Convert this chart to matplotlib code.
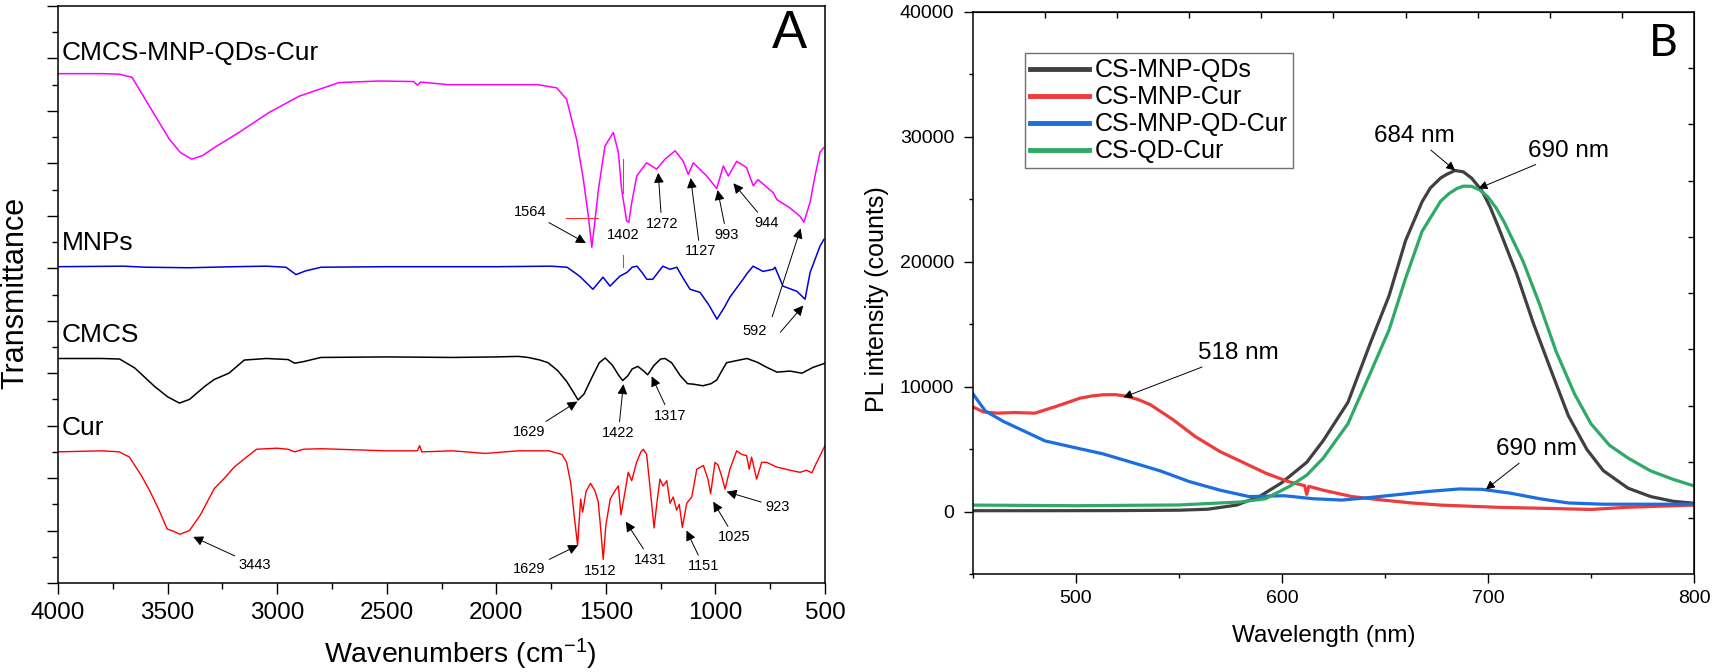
import matplotlib.pyplot as plt
from matplotlib.ticker import MultipleLocator, FixedLocator

plt.rcParams['font.family'] = ['Liberation Sans', 'DejaVu Sans']
plt.rcParams['mathtext.default'] = 'regular'

# ---------------- panel A : FTIR (offset traces, arbitrary units) ----------------
qds_wn = [4000, 3900, 3800, 3720, 3662, 3583, 3492, 3440, 3389, 3340, 3287, 3174, 3037, 2900,
          2718, 2536, 2377, 2360, 2345, 2220, 2000, 1810, 1741, 1724, 1679, 1633, 1603, 1580,
          1564, 1550, 1534, 1504, 1466, 1443, 1428, 1405, 1395, 1382, 1359, 1314, 1268, 1230,
          1184, 1147, 1124, 1101, 1040, 994, 964, 941, 903, 858, 827, 806, 736, 720, 660, 614,
          596, 568, 546, 523, 505]
qds_t = [9.71, 9.71, 9.71, 9.70, 9.64, 9.09, 8.46, 8.20, 8.08, 8.15, 8.30, 8.59, 8.97, 9.28,
         9.54, 9.57, 9.56, 9.49, 9.55, 9.50, 9.50, 9.50, 9.45, 9.44, 9.22, 8.45, 7.70, 7.00,
         6.40, 6.90, 7.50, 8.33, 8.59, 8.21, 7.50, 6.90, 6.88, 7.25, 7.76, 8.01, 7.89, 8.08,
         8.24, 8.04, 7.79, 8.01, 7.76, 7.52, 7.95, 7.76, 8.04, 7.92, 7.57, 7.69, 7.44, 7.31,
         7.15, 6.99, 6.88, 7.26, 7.75, 8.21, 8.30]

mnp_wn = [4000, 3700, 3600, 3400, 3200, 3050, 2960, 2914, 2870, 2800, 2500, 2000, 1750, 1677,
          1620, 1559, 1513, 1481, 1436, 1404, 1380, 1358, 1335, 1313, 1286, 1240, 1207, 1176,
          1153, 1116, 1070, 1030, 993, 960, 934, 874, 856, 828, 783, 737, 728, 692, 628, 591,
          568, 523, 505]
mnp_t = [6.03, 6.04, 6.02, 6.01, 6.03, 6.04, 6.02, 5.88, 5.95, 6.02, 6.03, 6.03, 6.04, 6.02,
         5.85, 5.60, 5.83, 5.66, 5.85, 5.92, 6.02, 6.04, 5.92, 5.79, 5.79, 6.04, 5.98, 6.02,
         5.85, 5.60, 5.54, 5.30, 5.03, 5.25, 5.45, 5.79, 5.90, 6.04, 5.94, 5.98, 6.02, 5.66,
         5.56, 5.41, 5.92, 6.42, 6.55]

cmcs_wn = [4000, 3800, 3719, 3650, 3560, 3500, 3446, 3400, 3330, 3287, 3220, 3150, 3050, 2950,
           2920, 2880, 2800, 2500, 2200, 2000, 1900, 1855, 1800, 1764, 1720, 1680, 1650, 1627,
           1600, 1560, 1530, 1503, 1470, 1440, 1423, 1400, 1380, 1354, 1330, 1309, 1280, 1250,
           1230, 1200, 1160, 1127, 1100, 1057, 1020, 994, 970, 949, 880, 856, 810, 760, 719,
           660, 605, 555, 500]
cmcs_t = [4.28, 4.28, 4.27, 4.10, 3.75, 3.55, 3.43, 3.50, 3.75, 3.88, 4.00, 4.25, 4.28, 4.26,
          4.19, 4.22, 4.30, 4.31, 4.30, 4.31, 4.32, 4.30, 4.25, 4.20, 4.05, 3.85, 3.65, 3.49,
          3.60, 3.95, 4.20, 4.29, 4.15, 3.95, 3.86, 3.95, 4.08, 4.13, 4.05, 3.97, 4.15, 4.27,
          4.28, 4.20, 3.95, 3.80, 3.79, 3.76, 3.80, 3.87, 4.05, 4.20, 4.26, 4.28, 4.21, 4.10,
          4.02, 4.04, 4.00, 4.11, 4.19]

cur_wn = [4000, 3800, 3720, 3674, 3620, 3583, 3540, 3502, 3470, 3443, 3400, 3350, 3287, 3240,
          3196, 3140, 3094, 3000, 2950, 2920, 2880, 2800, 2500, 2360, 2350, 2340, 2200, 2050,
          1900, 1760, 1700, 1679, 1660, 1645, 1629, 1615, 1606, 1590, 1570, 1550, 1535, 1525,
          1512, 1500, 1480, 1460, 1443, 1431, 1410, 1398, 1382, 1360, 1340, 1329, 1314, 1299,
          1280, 1265, 1253, 1239, 1222, 1207, 1193, 1177, 1165, 1151, 1131, 1108, 1085, 1055,
          1034, 1022, 1002, 988, 972, 956, 934, 903, 880, 858, 846, 835, 812, 789, 766, 720,
          660, 614, 584, 560, 538, 520, 500]
cur_t = [2.50, 2.52, 2.50, 2.40, 2.05, 1.77, 1.40, 1.03, 0.98, 0.93, 1.00, 1.30, 1.80, 2.00,
         2.21, 2.40, 2.55, 2.57, 2.55, 2.50, 2.55, 2.56, 2.52, 2.52, 2.62, 2.50, 2.52, 2.47,
         2.52, 2.52, 2.45, 2.30, 1.90, 1.30, 0.72, 1.60, 1.35, 1.75, 1.90, 1.76, 1.55, 1.10,
         0.45, 1.10, 1.60, 1.75, 1.85, 1.30, 1.80, 2.11, 1.95, 2.30, 2.50, 2.55, 2.45, 1.85,
         1.05, 1.60, 1.98, 1.85, 1.95, 1.52, 1.64, 1.39, 1.50, 1.06, 1.52, 1.64, 2.17, 2.24,
         1.98, 1.70, 2.30, 2.25, 2.04, 1.79, 2.17, 2.52, 2.45, 2.43, 2.17, 2.40, 1.98, 2.30,
         2.30, 2.21, 2.15, 2.11, 2.15, 2.10, 2.30, 2.45, 2.62]

# short red marker segments left in the original figure
mark_h_wn = [1684, 1536]
mark_h_t = [6.96, 6.96]
mark_v1_wn = [1423, 1423]
mark_v1_t = [8.08, 7.44]
mark_v2_wn = [1423, 1423]
mark_v2_t = [6.25, 6.02]

trace_labels = ['CMCS-MNP-QDs-Cur', 'MNPs', 'CMCS', 'Cur']
trace_label_y = [10.10, 6.48, 4.73, 2.95]

# (text, text_wn, text_y, tip_wn, tip_y); tip None -> no arrow
peaks_a = [
    ('1564', 1846, 7.07, 1591, 6.48),
    ('1402', 1423, 6.64, None, None),
    ('1272', 1245, 6.85, 1261, 7.82),
    ('1127', 1070, 6.32, 1113, 7.72),
    ('993', 949, 6.64, 990, 7.49),
    ('944', 766, 6.86, 918, 7.62),
    ('592', 819, 4.81, None, None),
    ('1629', 1849, 2.88, 1630, 3.46),
    ('1422', 1443, 2.86, 1420, 3.79),
    ('1317', 1207, 3.19, 1291, 3.94),
    ('3443', 3101, 0.34, 3383, 0.88),
    ('1629', 1851, 0.26, 1627, 0.72),
    ('1512', 1527, 0.22, None, None),
    ('1431', 1296, 0.44, 1409, 1.17),
    ('1151', 1054, 0.32, 1132, 1.00),
    ('1025', 913, 0.87, 1010, 1.55),
    ('923', 717, 1.45, 949, 1.74),
]
# the two arrows that leave the "592" label: (tail_wn, tail_y, tip_wn, tip_y)
arrows_592 = [(743, 5.05, 611, 6.76), (708, 4.76, 599, 5.29)]

# ---------------- panel B : PL spectra ----------------
qds_wl = [450, 480, 520, 550, 564, 578, 589, 600, 612, 620, 632, 643, 652, 660, 668, 672, 677,
          680, 684, 688, 692, 697, 701, 705, 714, 722, 731, 739, 748, 756, 768, 779, 790, 800]
qds_pl = [100, 100, 110, 140, 220, 550, 1230, 2350, 3970, 5700, 8760, 13550, 17300, 21700,
          24800, 25900, 26700, 27000, 27300, 27200, 26700, 25700, 24400, 22800, 19000, 15100,
          11150, 7700, 5000, 3300, 1900, 1230, 850, 700]

cur_wl = [450, 455, 462, 470, 480, 490, 502, 508, 513, 519, 524, 530, 536, 547, 558, 570, 581,
          592, 603, 611, 612, 613, 620, 634, 649, 663, 677, 705, 733, 750, 767, 800]
cur_pl = [8400, 8000, 7900, 7950, 7900, 8420, 9100, 9280, 9370, 9380, 9270, 9000, 8590, 7390,
          6020, 4820, 3970, 3110, 2430, 2100, 1400, 2050, 1740, 1230, 950, 720, 550, 370, 270,
          200, 370, 550]

qdcur_wl = [450, 456, 465, 474, 485, 499, 513, 527, 541, 555, 570, 584, 601, 615, 629, 643,
            657, 671, 686, 697, 711, 725, 739, 756, 776, 800]
qdcur_pl = [9440, 8070, 7220, 6530, 5680, 5160, 4650, 3970, 3280, 2430, 1740, 1230, 1300, 1060,
            950, 1160, 1400, 1640, 1840, 1810, 1500, 1060, 720, 620, 620, 620]

csqd_wl = [450, 500, 550, 580, 592, 604, 612, 620, 632, 643, 652, 660, 668, 677, 681, 685, 688,
           692, 696, 700, 704, 708, 717, 725, 733, 742, 750, 759, 768, 779, 790, 800]
csqd_pl = [550, 500, 560, 800, 1060, 2080, 2940, 4300, 7050, 11150, 14570, 18680, 22440, 24840,
           25450, 25870, 26050, 26040, 25750, 25180, 24300, 23130, 20050, 16630, 12860, 9440,
           7050, 5330, 4310, 3280, 2600, 2080]

pl_names = ['CS-MNP-QDs', 'CS-MNP-Cur', 'CS-MNP-QD-Cur', 'CS-QD-Cur']
peaks_b = [
    ('684 nm', 664.3, 30040, 684, 27310),
    ('690 nm', 739.2, 28880, 695.4, 25870),
    ('518 nm', 578.6, 12690, 523, 9170),
    ('690 nm', 723.6, 5000, 699, 1810),
]

# ---------------- figure ----------------
fig = plt.figure(figsize=(17.13, 6.72), dpi=100)
axA = fig.add_axes([0.03386, 0.13244, 0.44775, 0.85863])
axB = fig.add_axes([0.5680, 0.14509, 0.42090, 0.8375])

arrow_kw = dict(arrowstyle='-|>', color='black', lw=0.7, mutation_scale=15,
                shrinkA=1, shrinkB=0)

# panel A
axA.plot(qds_wn, qds_t, color='#ff00ff', lw=1.1)
axA.plot(mnp_wn, mnp_t, color='#0000dd', lw=1.1)
axA.plot(cmcs_wn, cmcs_t, color='black', lw=1.1)
axA.plot(cur_wn, cur_t, color='#ff0000', lw=1.0)
for xs, ys in [(mark_h_wn, mark_h_t), (mark_v1_wn, mark_v1_t), (mark_v2_wn, mark_v2_t)]:
    axA.plot(xs, ys, color='#ff3030', lw=0.8)

for lab, yy in zip(trace_labels, trace_label_y):
    axA.text(3982, yy, lab, fontsize=19, ha='left', va='center')

for lab, tx, ty, px, py in peaks_a:
    if px is None:
        axA.text(tx, ty, lab, fontsize=10.5, ha='center', va='center')
    else:
        axA.annotate(lab, xy=(px, py), xytext=(tx, ty), fontsize=10.5,
                     ha='center', va='center', arrowprops=arrow_kw)
for x0, y0, x1, y1 in arrows_592:
    axA.annotate('', xy=(x1, y1), xytext=(x0, y0), arrowprops=arrow_kw)

axA.text(660, 10.47, 'A', fontsize=38, ha='center', va='center')

axA.set_xlim(4000, 500)
axA.set_ylim(0, 11)
axA.xaxis.set_major_locator(MultipleLocator(500))
axA.xaxis.set_minor_locator(MultipleLocator(250))
axA.yaxis.set_major_locator(MultipleLocator(1))
axA.yaxis.set_minor_locator(MultipleLocator(0.5))
axA.tick_params(which='both', direction='out', width=1.0, top=False, right=False)
axA.tick_params(which='major', length=8)
axA.tick_params(which='minor', length=4.5)
axA.tick_params(axis='x', labelsize=17.5, pad=6)
axA.tick_params(axis='y', labelleft=False)
for sp in axA.spines.values():
    sp.set_linewidth(1.1)

axA.set_xlabel('Wavenumbers (cm$^{-1}$)', fontsize=20.5, va='center')
axA.xaxis.set_label_coords(0.524, -0.123)
axA.set_ylabel('Transmittance', fontsize=22, va='center')
axA.yaxis.set_label_coords(-0.056, 0.502)

# panel B
axB.plot(qds_wl, qds_pl, color='#404040', lw=2.3, label=pl_names[0])
axB.plot(cur_wl, cur_pl, color='#ee3b3b', lw=2.3, label=pl_names[1])
axB.plot(qdcur_wl, qdcur_pl, color='#1a6ee0', lw=2.3, label=pl_names[2])
axB.plot(csqd_wl, csqd_pl, color='#2eaa66', lw=2.3, label=pl_names[3])

for lab, tx, ty, px, py in peaks_b:
    axB.annotate(lab, xy=(px, py), xytext=(tx, ty), fontsize=17.5,
                 ha='center', va='center',
                 arrowprops=dict(arrowstyle='-|>', color='black', lw=0.7,
                                 mutation_scale=13, shrinkA=0, shrinkB=0))

axB.text(785, 37420, 'B', fontsize=32, ha='center', va='center',
         family=['Lato', 'Liberation Sans'])

leg = axB.legend(loc='upper left', bbox_to_anchor=(0.0721, 0.926), fontsize=18,
                 frameon=True, fancybox=False, framealpha=1, edgecolor='#707070',
                 borderpad=0.2, labelspacing=0.12, handlelength=2.36,
                 handletextpad=0.24, borderaxespad=0)
leg.get_frame().set_linewidth(1.0)
for ln in leg.get_lines():
    ln.set_linewidth(3.5)

axB.set_xlim(450, 800)
axB.set_ylim(-5000, 40000)
axB.xaxis.set_major_locator(MultipleLocator(100))
axB.xaxis.set_minor_locator(MultipleLocator(50))
axB.yaxis.set_major_locator(MultipleLocator(10000))
axB.yaxis.set_minor_locator(MultipleLocator(5000))
axB.tick_params(which='both', direction='out', width=1.0, top=False, right=False,
                labelsize=14)
axB.tick_params(which='major', length=6.5)
axB.tick_params(which='minor', length=3.2)
axB.tick_params(axis='x', pad=5)
axB.tick_params(axis='y', pad=7)
for sp in axB.spines.values():
    sp.set_linewidth(1.1)

top = axB.secondary_xaxis('top')
top.xaxis.set_major_locator(FixedLocator([485, 520, 555, 590, 625, 660, 695, 730, 765]))
top.tick_params(direction='in', length=4, width=1.0, labeltop=False)
right = axB.secondary_yaxis('right')
right.yaxis.set_major_locator(FixedLocator([-500, 4000, 8500, 13000, 17500, 22000,
                                            26500, 31000, 35500]))
right.tick_params(direction='in', length=4, width=1.0, labelright=False)

axB.set_xlabel('Wavelength (nm)', fontsize=17.5, va='center')
axB.xaxis.set_label_coords(0.487, -0.109)
axB.set_ylabel('PL intensity (counts)', fontsize=18, va='center')
axB.yaxis.set_label_coords(-0.133, 0.49)

fig.savefig('out.png', dpi=100)
